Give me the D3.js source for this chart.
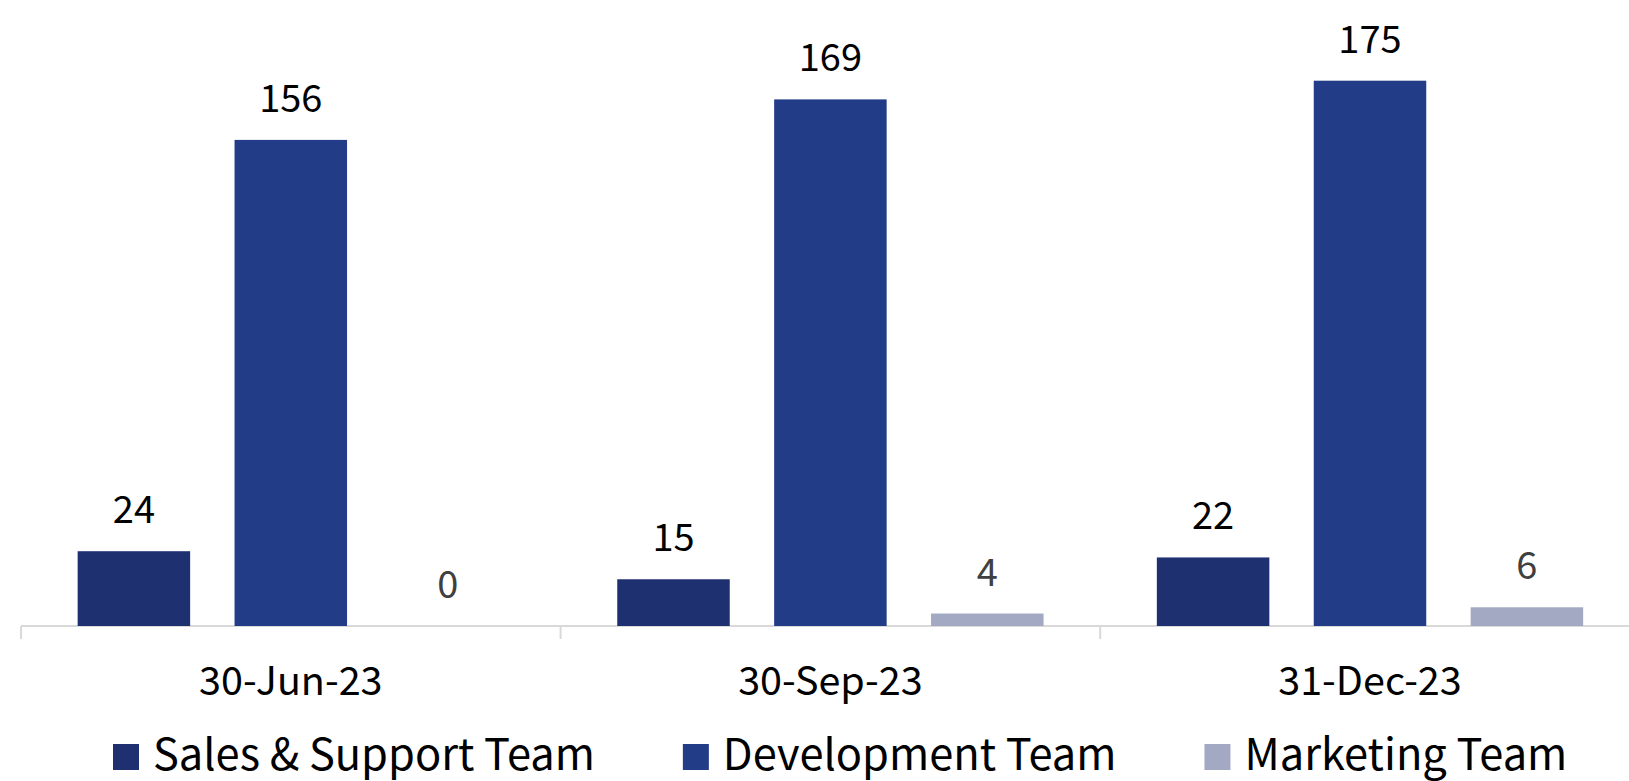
<!DOCTYPE html>
<html>
<head>
<meta charset="utf-8">
<script src="https://cdn.jsdelivr.net/npm/d3@7"></script>
<style>
  body { margin: 0; background: #fff; }
  svg text { font-family: "Noto Sans CJK TC", "Noto Sans", sans-serif; }
</style>
</head>
<body>
<svg id="chart"></svg>
<script>
var categories = ["30-Jun-23", "30-Sep-23", "31-Dec-23"]
var seriesNames = ["Sales & Support Team", "Development Team", "Marketing Team"]
var salesValues = [24, 15, 22]
var devValues = [156, 169, 175]
var marketingValues = [0, 4, 6]

var colors = ["#1f3070", "#233c87", "#a3a8c3"]
var labelColors = ["#000000", "#000000", "#404040"]

var screen = {width: 1629, height: 781}
var margins = {left: 21, baseline: 626}
var bandWidth = 539.6

var svg = d3.select("#chart")
    .attr("width", screen.width)
    .attr("height", screen.height)

var rows = categories.map(function(c, i){
    return {cat: c, values: [salesValues[i], devValues[i], marketingValues[i]]}
})

var xScale = d3.scaleBand()
    .domain(categories)
    .range([margins.left, margins.left + bandWidth * categories.length])
    .paddingInner(0)
    .paddingOuter(0)

var innerScale = d3.scaleBand()
    .domain(d3.range(seriesNames.length))
    .range([0, bandWidth])
    .paddingInner(0.283)
    .paddingOuter(0.361)

var yScale = d3.scaleLinear()
    .domain([0, 200])
    .range([margins.baseline, margins.baseline - 623.2])

// axis line + category dividers
var xAxis = d3.axisBottom(xScale).tickSize(0).tickFormat("")
var axisG = svg.append("g")
    .attr("transform", "translate(0," + margins.baseline + ")")
    .call(xAxis)
axisG.select(".domain").attr("stroke", "#d9d9d9").attr("stroke-width", 2)
    .attr("d", "M" + margins.left + ",0H" + screen.width)

svg.append("g").selectAll("line")
    .data(d3.range(categories.length))
    .enter()
    .append("line")
    .attr("x1", function(i){ return margins.left + i * bandWidth })
    .attr("x2", function(i){ return margins.left + i * bandWidth })
    .attr("y1", margins.baseline)
    .attr("y2", margins.baseline + 13)
    .attr("stroke", "#d9d9d9")
    .attr("stroke-width", 2)

svg.append("g").selectAll("text")
    .data(categories)
    .enter()
    .append("text")
    .attr("x", function(c){ return xScale(c) + xScale.bandwidth() / 2 })
    .attr("y", 695)
    .attr("text-anchor", "middle")
    .attr("font-size", 39.5)
    .attr("fill", "#000")
    .text(function(c){ return c })

var groups = svg.append("g").selectAll("g")
    .data(rows)
    .enter()
    .append("g")
    .attr("transform", function(d){ return "translate(" + xScale(d.cat) + ",0)" })

groups.selectAll("rect")
    .data(function(d){ return d.values })
    .enter()
    .append("rect")
    .attr("x", function(v, i){ return innerScale(i) })
    .attr("width", innerScale.bandwidth())
    .attr("y", function(v){ return yScale(v) })
    .attr("height", function(v){ return yScale(0) - yScale(v) })
    .attr("fill", function(v, i){ return colors[i] })

groups.selectAll("text")
    .data(function(d){ return d.values })
    .enter()
    .append("text")
    .attr("x", function(v, i){ return innerScale(i) + innerScale.bandwidth() / 2 })
    .attr("y", function(v){ return yScale(v) - 28 })
    .attr("text-anchor", "middle")
    .attr("font-size", 38)
    .attr("fill", function(v, i){ return labelColors[i] })
    .text(function(v){ return v })

// legend (descenders run off the bottom edge, as in the original)
var legend = svg.append("g")
var lx = 113
seriesNames.forEach(function(name, i){
    legend.append("rect")
        .attr("x", lx).attr("y", 744)
        .attr("width", 26).attr("height", 26)
        .attr("fill", colors[i])
    var t = legend.append("text")
        .attr("x", lx + 40).attr("y", 770)
        .attr("font-size", 43.4)
        .attr("fill", "#000")
        .text(name)
    lx = lx + 40 + t.node().getComputedTextLength() + 88
})
</script>
</body>
</html>
